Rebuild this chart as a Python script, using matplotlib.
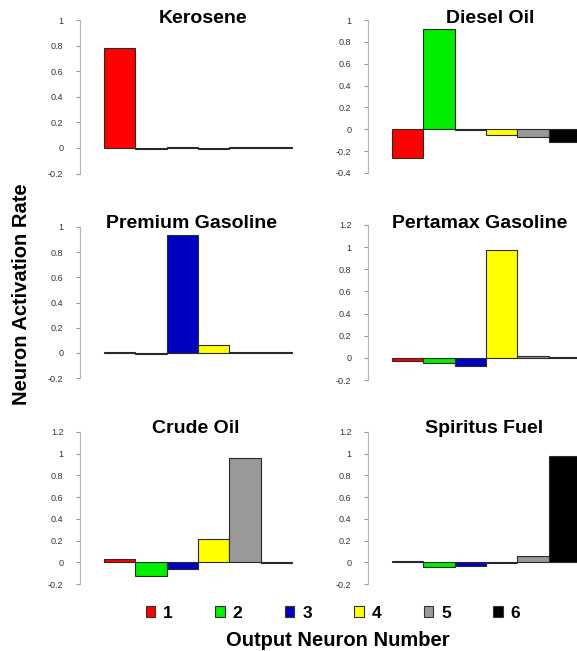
import matplotlib
matplotlib.use("Agg")
import matplotlib.pyplot as plt
from matplotlib.patches import Patch
from matplotlib.ticker import MultipleLocator, FuncFormatter

plt.rcParams['font.family'] = ['Liberation Sans', 'DejaVu Sans']

# ---- data ----
fuels = ["Kerosene", "Diesel Oil", "Premium Gasoline",
         "Pertamax Gasoline", "Crude Oil", "Spiritus Fuel"]
neurons = ["1", "2", "3", "4", "5", "6"]
kerosene = [0.78, -0.01, 0.01, -0.01, 0.005, 0.01]
diesel = [-0.26, 0.92, -0.005, -0.05, -0.07, -0.12]
premium = [0.01, -0.01, 0.94, 0.06, 0.005, 0.01]
pertamax = [-0.03, -0.05, -0.07, 0.97, 0.02, 0.005]
crude = [0.03, -0.13, -0.06, 0.21, 0.96, -0.01]
spiritus = [0.015, -0.04, -0.03, -0.01, 0.06, 0.98]
series = [kerosene, diesel, premium, pertamax, crude, spiritus]

colors = ['#ff0000', '#00ee00', '#0000c0', '#ffff00', '#999999', '#000000']

W, H = 577, 651
fig = plt.figure(figsize=(W / 100, H / 100), dpi=100)

# layout in pixels: (left, top, bottom, ylim, title_x, title_baseline)
layout = [
    (80, 20, 173.6, (-0.2, 1.0), 203, 23),
    (368, 20, 173, (-0.4, 1.0), 490, 23),
    (80, 227, 378, (-0.2, 1.0), 192, 228),
    (368, 225, 380, (-0.2, 1.2), 480, 228),
    (80, 432, 584, (-0.2, 1.2), 196, 433),
    (368, 432, 584, (-0.2, 1.2), 484, 433),
]
xlim = (-1.25, 5.55)
ax_w = 214

for name, vals, (lx, top, bot, yl, tx, ty) in zip(fuels, series, layout):
    ax = fig.add_axes([lx / W, 1 - bot / H, ax_w / W, (bot - top) / H])
    ax.bar(range(len(vals)), vals, width=1.0, color=colors,
           edgecolor='#2a2a2a', linewidth=0.8)
    ax.set_xlim(*xlim)
    ax.set_ylim(*yl)
    ax.yaxis.set_major_locator(MultipleLocator(0.2))
    ax.yaxis.set_major_formatter(FuncFormatter(lambda v, p: f"{round(v, 1):g}"))
    for s in ('top', 'right', 'bottom'):
        ax.spines[s].set_visible(False)
    ax.spines['left'].set_color('#b5b5b5')
    ax.spines['left'].set_linewidth(0.8)
    ax.set_xticks([])
    ax.tick_params(axis='y', length=3, width=0.8, color='#999999',
                   labelsize=6.5, labelcolor='#333333', pad=9)
    ax.patch.set_alpha(0)
    fig.text(tx / W, 1 - ty / H, name, ha='center', va='baseline',
             fontsize=14, fontweight='bold')

# y label
fig.text(22 / W, 1 - 294 / H, "Neuron Activation Rate", rotation=90,
         ha='center', va='center', fontsize=14.5, fontweight='bold')

# legend
handles = [Patch(facecolor=c, edgecolor='#333333', linewidth=0.8) for c in colors]
leg = fig.legend(handles, neurons, loc='center', ncol=6,
                 bbox_to_anchor=(333 / W, 1 - 613 / H), frameon=False,
                 prop={'weight': 'bold', 'size': 12.5},
                 handlelength=0.55, handleheight=0.55, handletextpad=0.45,
                 columnspacing=2.45, borderpad=0)

fig.text(338 / W, 1 - 640 / H, "Output Neuron Number", ha='center',
         va='center', fontsize=14.5, fontweight='bold')

fig.savefig("out.png", dpi=100)
